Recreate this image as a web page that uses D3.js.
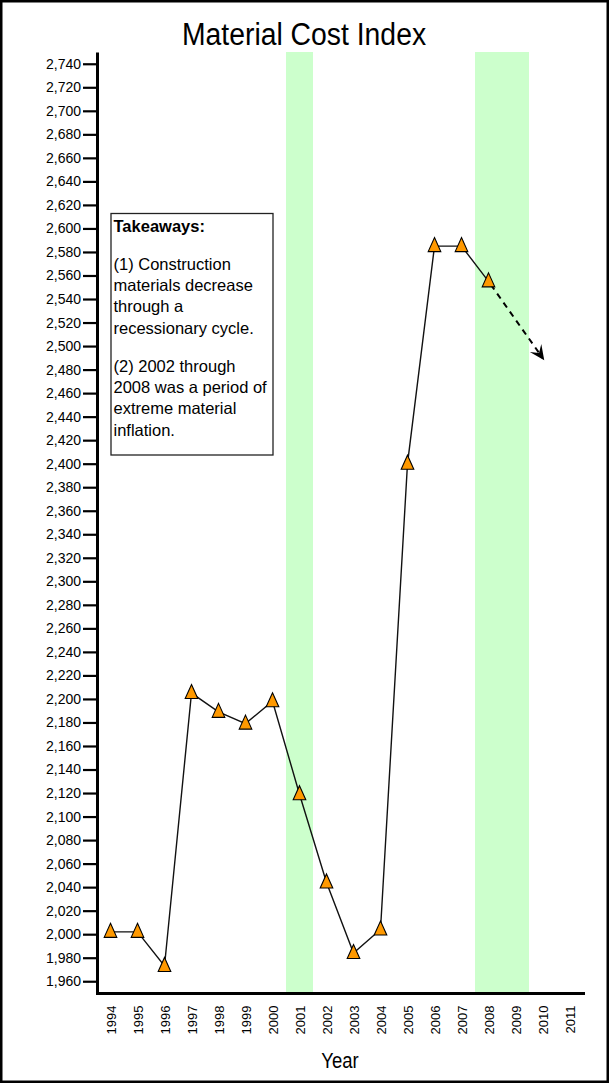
<!DOCTYPE html>
<html>
<head>
<meta charset="utf-8">
<script src="https://cdn.jsdelivr.net/npm/d3@7"></script>
<style>
  body { margin: 0; background: #fff; }
  svg { display: block; }
  text { font-family: "Liberation Sans", Arial, Helvetica, sans-serif; fill: #000; }
</style>
</head>
<body>
<svg id="chart" width="610" height="1084"></svg>
<script>
// Axis categories
const years = [1994, 1995, 1996, 1997, 1998, 1999, 2000, 2001, 2002,
               2003, 2004, 2005, 2006, 2007, 2008, 2009, 2010, 2011];

// Observed material cost index
const dataYears = [1994, 1995, 1996, 1997, 1998, 1999, 2000, 2001,
                   2002, 2003, 2004, 2005, 2006, 2007, 2008];
const costIndex = [2002, 2002, 1973, 2205, 2189, 2179, 2198, 2119,
                   2044, 1984, 2004, 2400, 2585, 2585, 2555];

// Projected trend (dashed arrow)
const projYears = [2008, 2010];
const projValues = [2555, 2490];

// Recession periods (first year, last year)
const recessionStart = [2001, 2008];
const recessionEnd = [2001, 2009];

// Y tick values
const yTicks = d3.range(1960, 2741, 20);

// Notes box
const noteTitle = "Takeaways:";
const noteParagraphs = [
  ["(1) Construction", "materials decrease", "through a", "recessionary cycle."],
  ["(2) 2002 through", "2008 was a period of", "extreme material", "inflation."]
];

const svg = d3.select("#chart");
const W = 610, H = 1084;
const plot = { left: 97, right: 583, top: 52, bottom: 993 };

const x = d3.scaleLinear()
  .domain([years[0] - 0.5, years[years.length - 1] + 0.5])
  .range([plot.left, plot.right]);
const y = d3.scaleLinear()
  .domain([1950, 2750])
  .range([plot.bottom, plot.top]);

// Outer frame
svg.append("rect")
  .attr("x", 1.25).attr("y", 1.25)
  .attr("width", W - 3.5).attr("height", H - 3.5)
  .attr("fill", "#fff").attr("stroke", "#000").attr("stroke-width", 2.5);

// Recession shading
svg.append("g").selectAll("rect")
  .data(recessionStart.map((s, i) => [s, recessionEnd[i]]))
  .join("rect")
  .attr("x", d => x(d[0] - 0.5))
  .attr("width", d => x(d[1] + 0.5) - x(d[0] - 0.5))
  .attr("y", plot.top)
  .attr("height", plot.bottom - plot.top)
  .attr("fill", "#ccffcc");

// Title
svg.append("text")
  .attr("transform", `translate(304,45) scale(0.9,1)`)
  .attr("text-anchor", "middle")
  .style("font-size", "31.5px")
  .style("font-weight", "500")
  .text("Material Cost Index");

// Y axis
const yAxis = svg.append("g")
  .attr("transform", `translate(${plot.left},0)`)
  .call(d3.axisLeft(y)
    .tickValues(yTicks)
    .tickFormat(d3.format(","))
    .tickSize(14)
    .tickPadding(2)
    .tickSizeOuter(0));
yAxis.select(".domain").attr("stroke", "#000").attr("stroke-width", 3);
yAxis.selectAll(".tick line").attr("stroke", "#000").attr("stroke-width", 2.2);
yAxis.selectAll(".tick text")
  .style("font-size", "14px")
  .style("font-family", "\"Liberation Sans\", Arial, sans-serif");

// X axis
const xAxis = svg.append("g")
  .attr("transform", `translate(0,${plot.bottom})`)
  .call(d3.axisBottom(x)
    .tickValues(years)
    .tickFormat(d3.format("d"))
    .tickSize(0)
    .tickSizeOuter(0));
xAxis.select(".domain").attr("stroke", "#000").attr("stroke-width", 3)
  .attr("stroke-linecap", "square");
xAxis.selectAll(".tick text")
  .attr("transform", "rotate(-90)")
  .attr("text-anchor", "end")
  .attr("x", -12.5)
  .attr("y", 0)
  .attr("dy", "0.35em")
  .style("font-size", "13px")
  .style("font-family", "\"Liberation Sans\", Arial, sans-serif");

// X axis title
svg.append("text")
  .attr("transform", `translate(${(plot.left + plot.right) / 2},1068) scale(0.84,1)`)
  .attr("text-anchor", "middle")
  .style("font-size", "22px")
  .text("Year");

// Notes box
const note = svg.append("g");
note.append("rect")
  .attr("x", 111).attr("y", 213.5)
  .attr("width", 162).attr("height", 241.5)
  .attr("fill", "#fff").attr("stroke", "#222").attr("stroke-width", 1.3);
const noteText = note.append("text")
  .attr("x", 113.5)
  .style("font-size", "16.5px");
noteText.append("tspan")
  .attr("x", 113.5).attr("y", 231.7)
  .style("font-weight", "bold")
  .text(noteTitle);
let baseY = 231.7;
noteParagraphs.forEach(par => {
  baseY += 38.3;
  par.forEach((line, i) => {
    noteText.append("tspan")
      .attr("x", 113.5)
      .attr("y", baseY + i * 21.2)
      .text(line);
  });
  baseY += (par.length - 1) * 21.2;
});

// Arrow marker for the projected trend
svg.append("defs").append("marker")
  .attr("id", "arrowHead")
  .attr("markerUnits", "userSpaceOnUse")
  .attr("viewBox", "-16 -8 18 16")
  .attr("refX", -3).attr("refY", 0)
  .attr("markerWidth", 18).attr("markerHeight", 16)
  .attr("orient", "auto")
  .append("path")
  .attr("d", "M0,0 L-15,-7 L-9,0 L-15,7 Z")
  .attr("fill", "#000");

// Projection line
svg.append("path")
  .datum(projYears.map((yr, i) => [yr, projValues[i]]))
  .attr("d", d3.line().x(d => x(d[0])).y(d => y(d[1])))
  .attr("fill", "none")
  .attr("stroke", "#000")
  .attr("stroke-width", 2)
  .attr("stroke-dasharray", "6,5")
  .attr("stroke-dashoffset", -4)
  .attr("marker-end", "url(#arrowHead)");

// Index line
const series = dataYears.map((yr, i) => [yr, costIndex[i]]);
svg.append("path")
  .datum(series)
  .attr("d", d3.line().x(d => x(d[0])).y(d => y(d[1])))
  .attr("fill", "none")
  .attr("stroke", "#111")
  .attr("stroke-width", 1.4);

// Triangle markers
svg.append("g").selectAll("path")
  .data(series)
  .join("path")
  .attr("transform", d => `translate(${x(d[0])},${y(d[1])})`)
  .attr("d", "M0,-8.5 L6.3,5.5 L-6.3,5.5 Z")
  .attr("fill", "#ff9900")
  .attr("stroke", "#000")
  .attr("stroke-width", 1.1)
  .attr("stroke-linejoin", "miter");
</script>
</body>
</html>
